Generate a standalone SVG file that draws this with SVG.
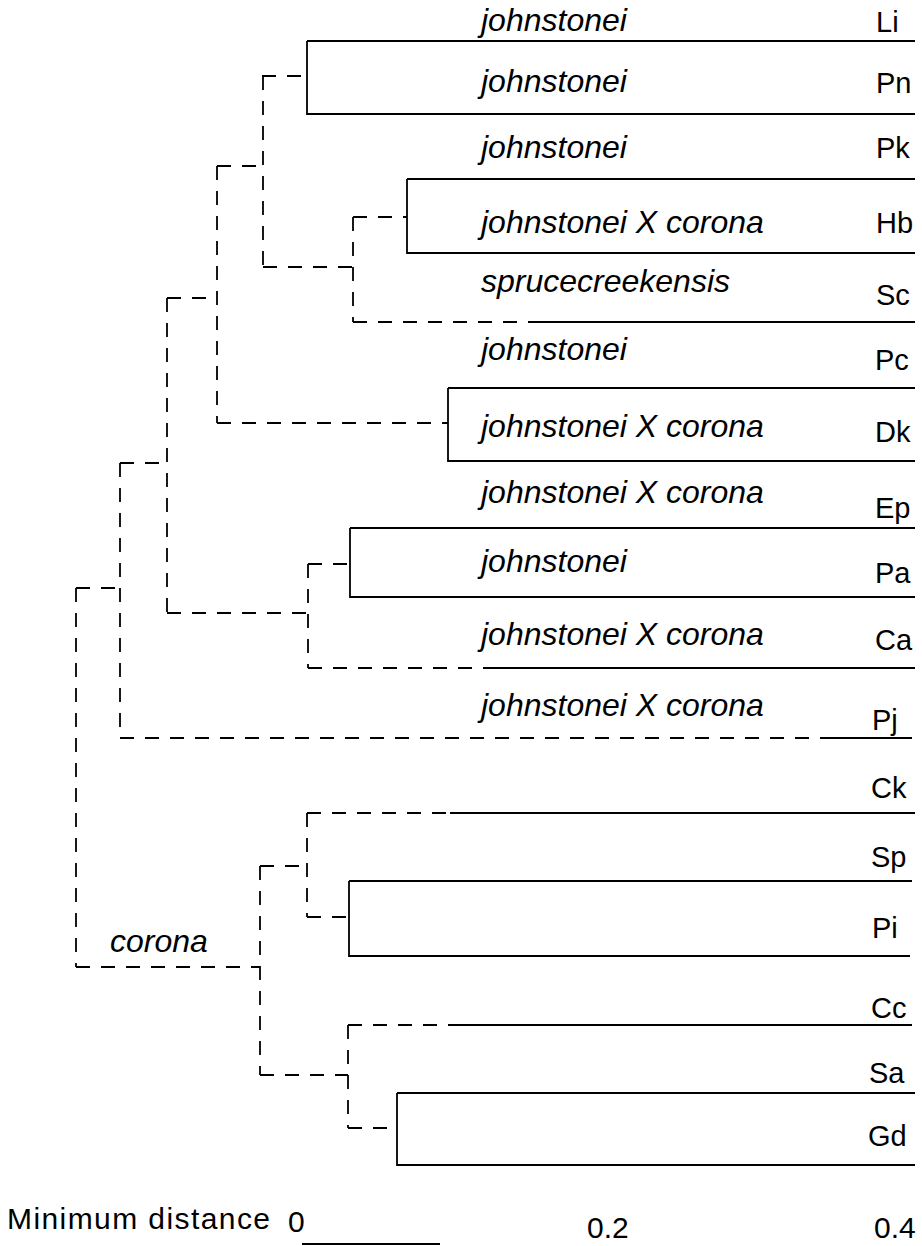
<svg xmlns="http://www.w3.org/2000/svg" width="922" height="1246" viewBox="0 0 922 1246">
<style>
.s{stroke:#000;stroke-width:1.8;fill:none}
.d{stroke:#000;stroke-width:1.8;fill:none;stroke-dasharray:14 11}
.n{font-family:"Liberation Sans",Arial,sans-serif;font-style:italic;font-size:32px;fill:#000}
.c{font-family:"Liberation Sans",Arial,sans-serif;font-size:29px;fill:#000}
.a{font-family:"Liberation Sans",Arial,sans-serif;font-size:30px;fill:#000}
</style>
<rect width="922" height="1246" fill="#fff"/>
<g id="connectors">
<path class="d" d="M262,76H307 M263,76V267 M263,267H353 M353,217V322 M353,217H407 M353,322H540"/>
<path class="d" d="M217,166H263 M217,166V423 M217,423H448"/>
<path class="d" d="M167,298H217 M167,298V613 M167,613H308 M308,564V668 M308,564H350 M308,668H495"/>
<path class="d" d="M120,463H167 M120,463V738 M120,738H823"/>
<path class="d" d="M76,588H120 M76,588V967 M76,967H260"/>
<path class="d" d="M260,866V1075 M260,866H307 M307,813V917 M307,813H450 M307,917H349"/>
<path class="d" d="M260,1075H348 M348,1025V1128 M348,1025H450 M348,1128H397"/>
</g>
<g id="leaf-Li"><path class="s" d="M307,41H915"/><text class="n" x="481" y="31">johnstonei</text><text class="c" x="876" y="32">Li</text></g>
<g id="leaf-Pn"><path class="s" d="M307,41V114H915"/><text class="n" x="481" y="92">johnstonei</text><text class="c" x="876" y="93">Pn</text></g>
<g id="leaf-Pk"><path class="s" d="M407,179H915"/><text class="n" x="481" y="158">johnstonei</text><text class="c" x="876" y="158">Pk</text></g>
<g id="leaf-Hb"><path class="s" d="M407,179V253H915"/><text class="n" x="481" y="233">johnstonei X corona</text><text class="c" x="876" y="233">Hb</text></g>
<g id="leaf-Sc"><path class="s" d="M540,322H915"/><text class="n" x="481" y="292">sprucecreekensis</text><text class="c" x="876" y="305">Sc</text></g>
<g id="leaf-Pc"><path class="s" d="M448,388H915"/><text class="n" x="481" y="360">johnstonei</text><text class="c" x="875" y="370">Pc</text></g>
<g id="leaf-Dk"><path class="s" d="M448,388V461H915"/><text class="n" x="481" y="437">johnstonei X corona</text><text class="c" x="875" y="442">Dk</text></g>
<g id="leaf-Ep"><path class="s" d="M350,528H915"/><text class="n" x="481" y="503">johnstonei X corona</text><text class="c" x="875" y="518">Ep</text></g>
<g id="leaf-Pa"><path class="s" d="M350,528V597H915"/><text class="n" x="481" y="572">johnstonei</text><text class="c" x="875" y="583">Pa</text></g>
<g id="leaf-Ca"><path class="s" d="M495,668H915"/><text class="n" x="481" y="645">johnstonei X corona</text><text class="c" x="875" y="650">Ca</text></g>
<g id="leaf-Pj"><path class="s" d="M823,738H912"/><text class="n" x="481" y="716">johnstonei X corona</text><text class="c" x="872" y="730">Pj</text></g>
<g id="leaf-Ck"><path class="s" d="M450,813H915"/><text class="c" x="871" y="798">Ck</text></g>
<g id="leaf-Sp"><path class="s" d="M349,881H912"/><text class="c" x="871" y="867">Sp</text></g>
<g id="leaf-Pi"><path class="s" d="M349,881V956H910"/><text class="c" x="872" y="938">Pi</text></g>
<g id="leaf-Cc"><path class="s" d="M450,1025H912"/><text class="c" x="871" y="1018">Cc</text></g>
<g id="leaf-Sa"><path class="s" d="M397,1093H915"/><text class="c" x="869" y="1083">Sa</text></g>
<g id="leaf-Gd"><path class="s" d="M397,1093V1165H915"/><text class="c" x="868" y="1146">Gd</text></g>
<g id="clade-corona"><text class="n" x="110" y="952">corona</text></g>
<g id="scale">
<text class="a" x="7" y="1229" textLength="263" lengthAdjust="spacing">Minimum distance</text>
<text class="a" x="288" y="1232">0</text>
<text class="a" x="587" y="1238">0.2</text>
<text class="a" x="874" y="1238">0.4</text>
<path class="s" d="M302,1244H440"/>
</g>
</svg>
